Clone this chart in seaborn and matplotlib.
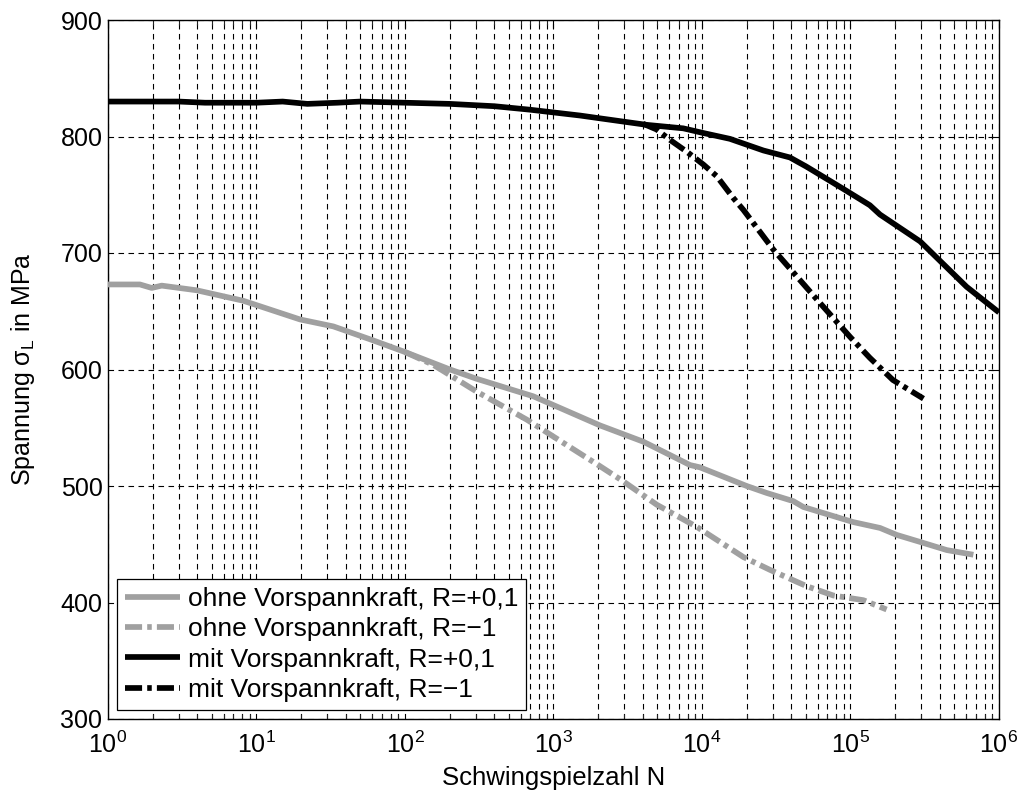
import numpy as np
import pandas as pd
import matplotlib
matplotlib.use("Agg")
import matplotlib.pyplot as plt
import seaborn as sns
from matplotlib.ticker import FixedLocator, NullLocator, LogFormatterSciNotation

# ---- data ----
N_ohne_p01 = [1, 1.64, 1.97, 2.3, 3.95, 8.15, 19.6, 32.9, 61, 100, 201, 304, 731, 2057,
              4030, 8300, 9700, 20000, 27300, 41200, 48100, 104500, 158000, 205000,
              294000, 445000, 672000]
S_ohne_p01 = [673, 673, 670, 672, 668, 659, 643, 637, 625, 615, 600, 592, 577, 552,
              538, 518, 516, 500, 494, 487, 482, 469, 464, 458, 452, 445, 441]

N_ohne_m1 = [100, 155, 304, 660, 2057, 2950, 4950, 9200, 19000, 28700, 50700, 76700,
             122000, 175000]
S_ohne_m1 = [615, 604, 581, 557, 517, 504, 484, 465, 439, 428, 414, 406, 402, 394]

N_mit_p01 = [1, 2, 3, 4.5, 7, 10, 15, 22, 35, 50, 100, 200, 400, 695, 1510, 1950, 4240,
             7480, 10200, 15400, 25900, 39100, 50700, 89500, 135000, 158000, 294000,
             605000, 1000000]
S_mit_p01 = [830, 830, 830, 829, 829, 829, 830, 828, 829, 830, 829, 828, 826, 823, 818,
             816, 810, 807, 803, 798, 788, 782, 774, 755, 741, 733, 710, 671, 649]

N_mit_m1 = [4000, 4950, 6100, 7890, 10200, 12550, 16300, 19000, 30200, 43400, 62400,
            99300, 135000, 193000, 310000]
S_mit_m1 = [811, 806, 797, 787, 776, 766, 747, 737, 703, 680, 657, 628, 610, 591, 575]

labels = ["ohne Vorspannkraft, R=+0,1", "ohne Vorspannkraft, R=\u22121",
          "mit Vorspannkraft, R=+0,1", "mit Vorspannkraft, R=\u22121"]
y_ticks = [300, 400, 500, 600, 700, 800, 900]
x_ticks = [1e0, 1e1, 1e2, 1e3, 1e4, 1e5, 1e6]

# ---- style ----
sns.set_theme(style="white")
plt.rcParams['font.family'] = ['Liberation Sans', 'DejaVu Sans']
plt.rcParams['mathtext.fontset'] = 'custom'
plt.rcParams['mathtext.rm'] = 'Liberation Sans'
plt.rcParams['mathtext.it'] = 'Liberation Sans:italic'
plt.rcParams['text.color'] = 'black'
plt.rcParams['axes.labelcolor'] = 'black'

fig = plt.figure(figsize=(10.2, 7.92), dpi=100)
ax = fig.add_axes([108/1020, 1-719/792, (999-108)/1020, (719-20)/792])

gray = "#a0a0a0"
dashdot = (0, (3.0, 0.9, 0.8, 0.9))
lw = 4.1
series = [
    (N_ohne_p01, S_ohne_p01, gray, '-'),
    (N_ohne_m1, S_ohne_m1, gray, dashdot),
    (N_mit_p01, S_mit_p01, 'black', '-'),
    (N_mit_m1, S_mit_m1, 'black', dashdot),
]
for (xs, ys, c, ls), lab in zip(series, labels):
    df = pd.DataFrame({"N": xs, "S": ys})
    sns.lineplot(data=df, x="N", y="S", ax=ax, color=c, linestyle=ls, linewidth=lw,
                 estimator=None, sort=False, label=lab, zorder=3,
                 solid_capstyle='butt', dash_capstyle='butt')

ax.set_xscale('log')
ax.set_xlim(1, 1e6)
ax.set_ylim(300, 900)
ax.yaxis.set_major_locator(FixedLocator(y_ticks))
ax.xaxis.set_major_locator(FixedLocator(x_ticks))
ax.xaxis.set_major_formatter(LogFormatterSciNotation())
minor = [m * d for d in x_ticks[:-1] for m in range(2, 10)]
ax.xaxis.set_minor_locator(FixedLocator(minor))
ax.yaxis.set_minor_locator(NullLocator())

grid_kw = dict(color='black', linestyle=(0, (5, 4)), linewidth=0.8)
ax.grid(True, which='major', axis='both', **grid_kw)
ax.grid(True, which='minor', axis='x', **grid_kw)
ax.set_axisbelow(True)

for s in ax.spines.values():
    s.set_color('black')
    s.set_linewidth(1.0)

ax.tick_params(axis='both', which='major', direction='in', length=6, width=0.8,
               top=True, right=True, labelsize=18, colors='black')
ax.tick_params(axis='y', which='major', pad=4)
ax.tick_params(axis='x', which='major', pad=9)
ax.tick_params(axis='x', which='minor', direction='in', length=3.5, width=0.8,
               top=True, bottom=True, labelbottom=False)

ax.set_xlabel("Schwingspielzahl N", fontsize=18.5, labelpad=6, color='black')
ax.set_ylabel("Spannung \u03c3$_\\mathregular{L}$ in MPa", fontsize=18, labelpad=17,
              color='black')

leg = ax.legend(loc='lower left', bbox_to_anchor=(0.010, 0.013), fontsize=19,
                frameon=True, fancybox=False, handlelength=2.1, handletextpad=0.3,
                borderpad=0.3, labelspacing=0.24, borderaxespad=0)
leg.get_frame().set_edgecolor('black')
leg.get_frame().set_linewidth(0.9)
leg.get_frame().set_alpha(1)
leg.set_zorder(5)
for t in leg.get_texts():
    t.set_color('black')

fig.savefig("out.png", dpi=100)
